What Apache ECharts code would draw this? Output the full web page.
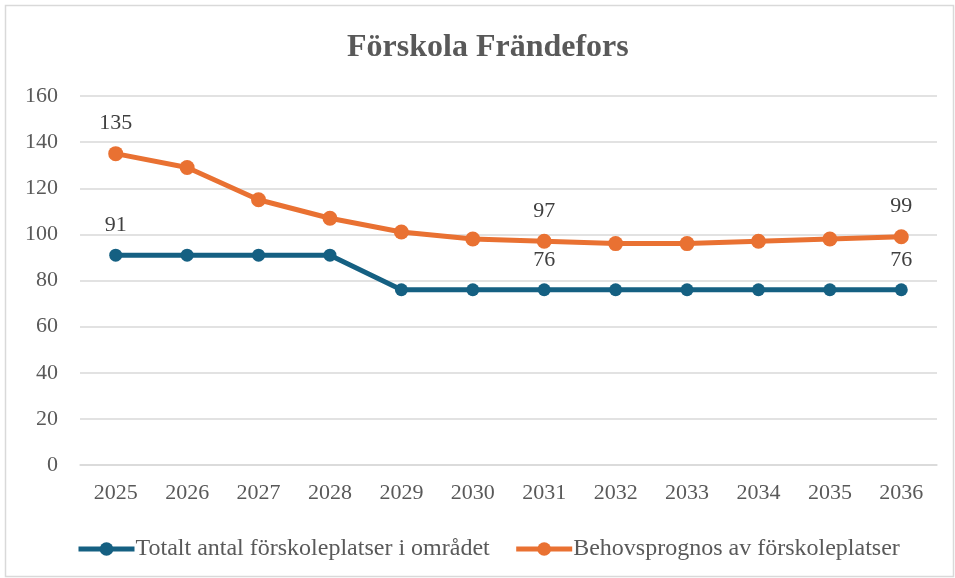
<!DOCTYPE html>
<html>
<head>
<meta charset="utf-8">
<script src="https://cdn.jsdelivr.net/npm/echarts@6/dist/echarts.min.js"></script>
<style>
  html, body { margin: 0; padding: 0; background: #fff; }
  #chart { width: 955px; height: 578px; }
</style>
</head>
<body>
<div id="chart"></div>
<script>
const years = ['2025', '2026', '2027', '2028', '2029', '2030', '2031', '2032', '2033', '2034', '2035', '2036']
const platser = [91, 91, 91, 91, 76, 76, 76, 76, 76, 76, 76, 76]
const prognos = [135, 129, 115, 107, 101, 98, 97, 96, 96, 97, 98, 99]
const labelIdx = [0, 6, 11]

const serif = '"Liberation Serif", "Times New Roman", serif'

const chart = echarts.init(document.getElementById('chart'))

// labels only at a few points
const withLabels = (arr) => arr.map((v, i) => ({
  value: v,
  label: { show: labelIdx.includes(i) }
}))

const labelStyle = {
  position: 'top',
  distance: 12,
  fontFamily: serif,
  fontSize: 22,
  color: '#404040'
}

const option = {
  animation: false,
  textStyle: { fontFamily: serif },
  title: {
    text: 'Förskola Frändefors',
    left: 342,
    top: 27,
    textStyle: { fontFamily: serif, fontSize: 32, fontWeight: 'bold', color: '#595959' }
  },
  graphic: [{
    type: 'rect',
    shape: { x: 5.5, y: 5.5, width: 948, height: 571 },
    style: { fill: 'none', stroke: '#d9d9d9', lineWidth: 1.5 },
    silent: true
  }],
  legend: {
    left: 71,
    top: 532,
    itemWidth: 56,
    itemHeight: 17,
    itemGap: 24,
    lineStyle: { width: 5 },
    textStyle: { fontFamily: serif, fontSize: 24, color: '#595959', padding: [0, 0, 0, -4] }
  },
  grid: { left: 80, right: 18, top: 96, bottom: 113 },
  xAxis: {
    type: 'category',
    data: years,
    boundaryGap: true,
    axisLine: { lineStyle: { color: '#d9d9d9', width: 1.5 } },
    axisTick: { show: false },
    axisLabel: { fontFamily: serif, fontSize: 22, color: '#595959', margin: 17 }
  },
  yAxis: {
    type: 'value',
    min: 0,
    max: 160,
    interval: 20,
    axisLine: { show: false },
    axisTick: { show: false },
    axisLabel: { fontFamily: serif, fontSize: 22, color: '#595959', margin: 22 },
    splitLine: { lineStyle: { color: '#d9d9d9', width: 1.5 } }
  },
  series: [
    {
      name: 'Totalt antal förskoleplatser i området',
      type: 'line',
      data: withLabels(platser),
      symbol: 'circle',
      symbolSize: 13,
      lineStyle: { width: 5, color: '#156082' },
      itemStyle: { color: '#156082' },
      label: labelStyle
    },
    {
      name: 'Behovsprognos av förskoleplatser',
      type: 'line',
      data: withLabels(prognos),
      symbol: 'circle',
      symbolSize: 15,
      lineStyle: { width: 5, color: '#E97132' },
      itemStyle: { color: '#E97132' },
      label: labelStyle
    }
  ]
}

chart.setOption(option)

window.addEventListener('resize', () => {
  chart?.resize()
})
</script>
</body>
</html>
